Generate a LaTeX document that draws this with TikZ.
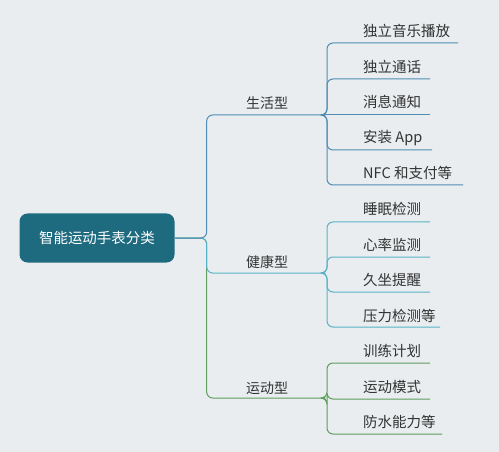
\documentclass[tikz,border=0pt]{standalone}
\usepackage{fontspec}
\setmainfont{Noto Sans CJK SC}
\definecolor{bgc}{HTML}{E9EDEF}
\definecolor{rootc}{HTML}{1E6B80}
\definecolor{bluec}{HTML}{4F8DB5}
\definecolor{tealc}{HTML}{5AB2C6}
\definecolor{greenc}{HTML}{5E9E5E}
\definecolor{txtc}{HTML}{333333}
\begin{document}
\begin{tikzpicture}[x=1pt,y=-1pt,
  rootbox/.style={fill=rootc, rounded corners=8pt, minimum width=155pt, minimum height=49pt, text=white, font=\fontsize{14.5}{16}\selectfont, inner sep=0pt},
  branchlbl/.style={text=txtc, font=\fontsize{14}{16}\selectfont, inner sep=0pt},
  leaf/.style={text=txtc, font=\fontsize{14.5}{16}\selectfont, inner sep=0pt, anchor=west},
  conn/.style={line width=1pt, rounded corners=6pt}
]
\fill[bgc] (0,0) rectangle (499,452);
\useasboundingbox (0,0) rectangle (499,452);

% root
\node[rootbox] (root) at (97,238) {智能运动手表分类};

% branch labels
\node[branchlbl] (life) at (267,103) {生活型};
\node[branchlbl] (health) at (267,262) {健康型};
\node[branchlbl] (sport) at (267,388) {运动型};

\coordinate (lifeE) at (325,115);
\coordinate (healthE) at (325,273);
\coordinate (sportE) at (325,398);

% leaves
\node[leaf] (a1) at (363,31) {独立音乐播放};
\node[leaf] (a2) at (363,67) {独立通话};
\node[leaf] (a3) at (363,102) {消息通知};
\node[leaf] (a4) at (363,138) {安装 App};
\node[leaf] (a5) at (363,173) {NFC 和支付等};
\coordinate (a1e) at (458,43);
\coordinate (a2e) at (430,79);
\coordinate (a3e) at (430,115);
\coordinate (a4e) at (432,150);
\coordinate (a5e) at (463,185);

\node[leaf] (b1) at (363,209) {睡眠检测};
\node[leaf] (b2) at (363,245) {心率监测};
\node[leaf] (b3) at (363,280) {久坐提醒};
\node[leaf] (b4) at (363,316) {压力检测等};
\coordinate (b1e) at (430,222);
\coordinate (b2e) at (430,257);
\coordinate (b3e) at (430,292);
\coordinate (b4e) at (440,327);

\node[leaf] (c1) at (363,351) {训练计划};
\node[leaf] (c2) at (363,387) {运动模式};
\node[leaf] (c3) at (363,422) {防水能力等};
\coordinate (c1e) at (430,363);
\coordinate (c2e) at (430,399);
\coordinate (c3e) at (442,434);

% root to branches
\draw[conn, greenc] (root.east) -- ++(32,0) |- (sportE);
\draw[conn, tealc] (root.east) -- ++(32,0) |- (healthE);
\draw[conn, bluec] (root.east) -- ++(32,0) |- (lifeE);

% life children
\foreach \e in {a1e,a2e,a4e,a5e}
  \draw[conn, bluec] (lifeE) -- ++(2,0) |- (\e);
\draw[conn, bluec] (lifeE) -- (a3e);

% health children
\foreach \e in {b1e,b2e,b3e,b4e}
  \draw[conn, tealc] (healthE) -- ++(2,0) |- (\e);

% sport children
\foreach \e in {c1e,c2e,c3e}
  \draw[conn, greenc] (sportE) -- ++(2,0) |- (\e);
\end{tikzpicture}
\end{document}
